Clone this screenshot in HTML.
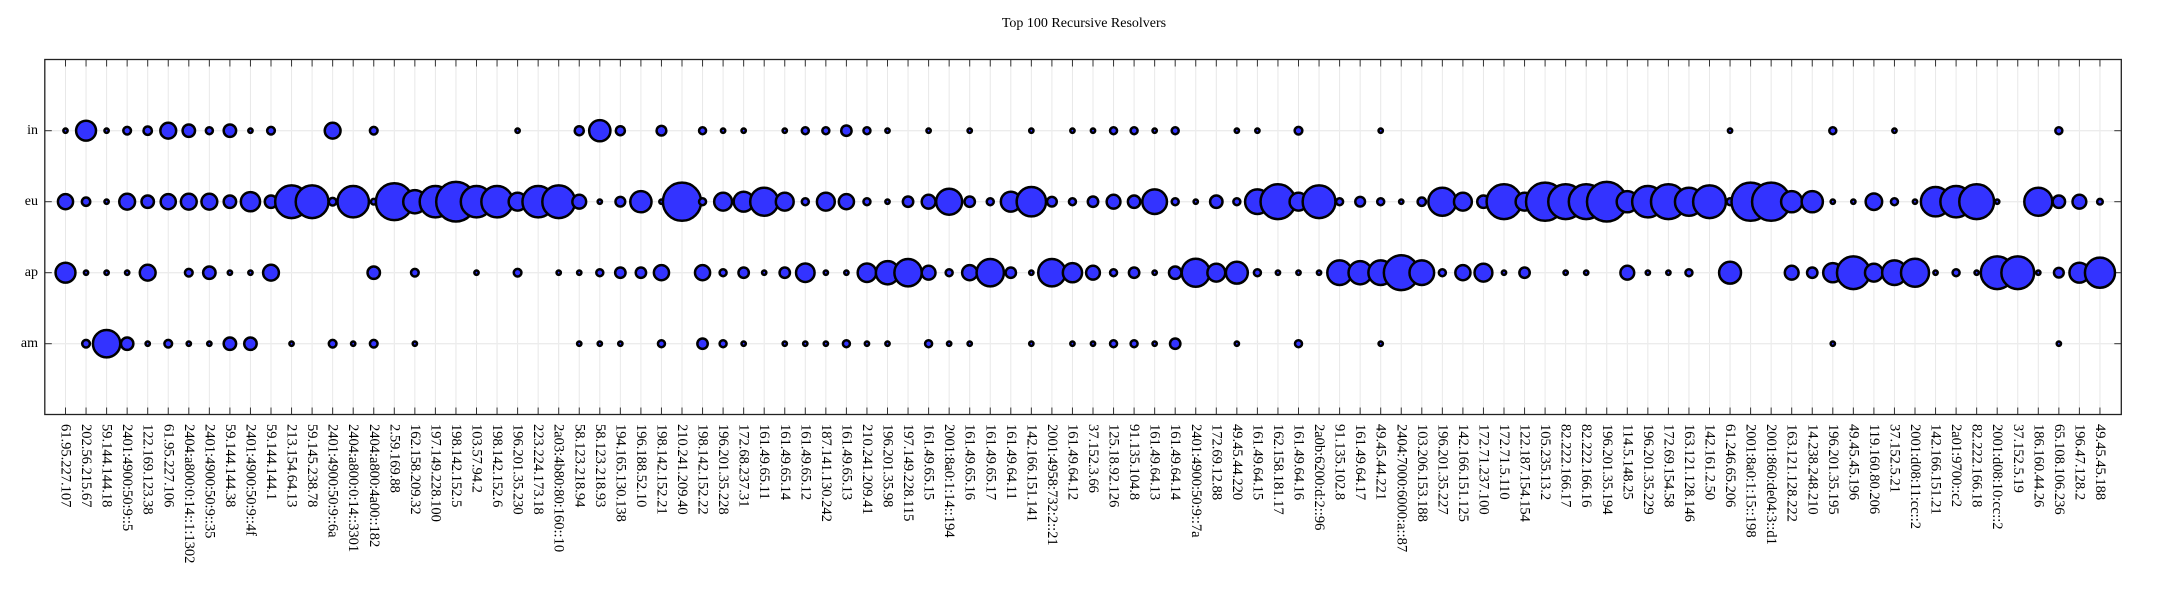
<!DOCTYPE html>
<html><head><meta charset="utf-8"><style>
html,body{margin:0;padding:0;background:#fff;}
svg{display:block;}
text{font-family:"Liberation Serif","DejaVu Serif",serif;fill:#000;}
</style></head><body>
<svg id="s" width="2157" height="592" xmlns="http://www.w3.org/2000/svg">
<rect width="2157" height="592" fill="#fff"/>
<text x="1084" y="27" font-size="14" text-anchor="middle">Top 100 Recursive Resolvers</text>
<g id="grid"></g>
<g id="bub"></g>
<rect x="44.8" y="59.5" width="2076.5" height="355" fill="none" stroke="#222" stroke-width="1.3"/>
<g font-size="14" text-anchor="end" dominant-baseline="central">
<text x="38" y="130.7">in</text><text x="38" y="201.7">eu</text><text x="38" y="272.7">ap</text><text x="38" y="343.7">am</text>
</g>
<g id="labels" font-size="14.5" dominant-baseline="central">
<text>61.95.227.107</text><text>202.56.215.67</text><text>59.144.144.18</text><text>2401:4900:50:9::5</text><text>122.169.123.38</text><text>61.95.227.106</text><text>2404:a800:0:14::1:1302</text><text>2401:4900:50:9::35</text><text>59.144.144.38</text><text>2401:4900:50:9::4f</text><text>59.144.144.1</text><text>213.154.64.13</text><text>59.145.238.78</text><text>2401:4900:50:9::6a</text><text>2404:a800:0:14::3301</text><text>2404:a800:4a00::182</text><text>2.59.169.88</text><text>162.158.209.32</text><text>197.149.228.100</text><text>198.142.152.5</text><text>103.57.94.2</text><text>198.142.152.6</text><text>196.201.35.230</text><text>223.224.173.18</text><text>2a03:4b80:80:160::10</text><text>58.123.218.94</text><text>58.123.218.93</text><text>194.165.130.138</text><text>196.188.52.10</text><text>198.142.152.21</text><text>210.241.209.40</text><text>198.142.152.22</text><text>196.201.35.228</text><text>172.68.237.31</text><text>161.49.65.11</text><text>161.49.65.14</text><text>161.49.65.12</text><text>187.141.130.242</text><text>161.49.65.13</text><text>210.241.209.41</text><text>196.201.35.98</text><text>197.149.228.115</text><text>161.49.65.15</text><text>2001:8a0:1:14::194</text><text>161.49.65.16</text><text>161.49.65.17</text><text>161.49.64.11</text><text>142.166.151.141</text><text>2001:4958:732:2::21</text><text>161.49.64.12</text><text>37.152.3.66</text><text>125.18.92.126</text><text>91.135.104.8</text><text>161.49.64.13</text><text>161.49.64.14</text><text>2401:4900:50:9::7a</text><text>172.69.12.88</text><text>49.45.44.220</text><text>161.49.64.15</text><text>162.158.181.17</text><text>161.49.64.16</text><text>2a0b:6200:d:2::96</text><text>91.135.102.8</text><text>161.49.64.17</text><text>49.45.44.221</text><text>2404:7000:6000:a::87</text><text>103.206.153.188</text><text>196.201.35.227</text><text>142.166.151.125</text><text>172.71.237.100</text><text>172.71.5.110</text><text>122.187.154.154</text><text>105.235.13.2</text><text>82.222.166.17</text><text>82.222.166.16</text><text>196.201.35.194</text><text>114.5.148.25</text><text>196.201.35.229</text><text>172.69.154.58</text><text>163.121.128.146</text><text>142.161.2.50</text><text>61.246.65.206</text><text>2001:8a0:1:15::198</text><text>2001:860:de04:3::d1</text><text>163.121.128.222</text><text>14.238.248.210</text><text>196.201.35.195</text><text>49.45.45.196</text><text>119.160.80.206</text><text>37.152.5.21</text><text>2001:d08:11:cc::2</text><text>142.166.151.21</text><text>2a01:9700::c2</text><text>82.222.166.18</text><text>2001:d08:10:cc::2</text><text>37.152.5.19</text><text>186.160.44.26</text><text>65.108.106.236</text><text>196.47.128.2</text><text>49.45.45.188</text>
</g>
</svg>
<script>
(function(){
var NS="http://www.w3.org/2000/svg";
function X(i){return 65.5+20.55*i;}
var rows=[130.7,201.7,272.7,343.7];
var L=44.8,R=2121.3,T=59.5,B=414.5;
var g=document.getElementById('grid');
function el(p,tag,a){var e=document.createElementNS(NS,tag);for(var k in a)e.setAttribute(k,a[k]);p.appendChild(e);return e;}
for(var i=0;i<100;i++){
 el(g,'line',{x1:X(i),x2:X(i),y1:T,y2:B,stroke:'#e8e8e8','stroke-width':1});
}
rows.forEach(function(y){el(g,'line',{x1:L,x2:R,y1:y,y2:y,stroke:'#ececec','stroke-width':1.3});});
for(var i=0;i<100;i++){
 el(g,'line',{x1:X(i),x2:X(i),y1:T,y2:T+7,stroke:'#333','stroke-width':1});
 el(g,'line',{x1:X(i),x2:X(i),y1:B,y2:B-7,stroke:'#333','stroke-width':1});
}
rows.forEach(function(y){
 el(g,'line',{x1:L,x2:L+7,y1:y,y2:y,stroke:'#333','stroke-width':1});
 el(g,'line',{x1:R,x2:R-7,y1:y,y2:y,stroke:'#333','stroke-width':1});
});
function arr(o){var a=[];for(var i=0;i<100;i++)a.push(o[i]||0);return a;}
var d=10;
var IN=arr({0:d,1:33,2:d,3:15,4:16,5:27,6:22,7:14,8:22,9:d,10:15,13:27,15:15,22:d,25:17,26:35,27:17,29:18,31:14,32:d,33:d,35:d,36:14,37:14,38:19,39:14,40:d,42:d,44:d,47:d,49:d,50:d,51:14,52:14,53:d,54:14,57:d,58:d,60:15,64:d,81:d,86:14,89:d,97:14});
var EU=[26,16,d,27,22,26,27,27,22,32,22,52,52,15,50,12,58,38,50,62,50,50,30,50,52,
24,d,18,35,d,60,14,30,33,45,30,14,30,26,14,d,19,24,42,19,14,33,47,18,14,19,
24,22,40,14,d,22,14,40,55,30,52,14,18,14,d,16,45,30,22,55,30,60,55,55,62,
35,50,55,45,52,14,60,60,35,35,d,d,28,14,d,47,50,55,d,0,45,22,24,12];
var AP=arr({0:33,1:d,2:d,3:d,4:27,6:15,7:22,8:d,9:d,10:27,15:22,17:15,20:d,22:15,24:d,
25:d,26:14,27:19,28:19,29:26,31:26,32:14,33:19,34:d,35:19,36:31,37:d,38:d,39:31,40:38,41:44,42:24,43:14,44:26,45:44,46:19,47:d,48:44,49:32,50:24,
51:14,52:19,53:d,54:22,55:45,56:30,57:36,58:14,59:d,60:d,61:d,62:40,63:38,64:40,65:55,66:40,67:14,68:26,69:30,70:d,71:19,73:d,74:d,
76:24,77:d,78:d,79:14,81:36,84:24,85:19,86:32,87:52,88:30,89:40,90:45,91:d,92:14,93:d,94:52,95:52,96:d,97:18,98:33,99:48});
var AM=arr({1:15,2:44,3:22,4:d,5:15,6:d,7:d,8:22,9:22,11:d,13:15,14:d,15:15,17:d,25:d,26:d,27:d,29:14,31:19,32:14,33:d,35:d,36:d,37:d,38:14,39:d,40:d,42:14,43:d,44:d,47:d,49:d,50:d,51:14,52:14,53:d,54:19,57:d,60:14,64:d,86:d,97:d});
var b=document.getElementById('bub');
[IN,EU,AP,AM].forEach(function(a,ri){
 for(var i=0;i<100;i++){var z=a[i];if(!z)continue;
  var r=z/2.95-1.25; if(r<1.6)r=1.6;
  el(b,'circle',{cx:X(i),cy:rows[ri],r:r.toFixed(2),fill:'#3333ff',stroke:'#000','stroke-width':2.5});
 }
});
var ts=document.getElementById('labels').getElementsByTagName('text');
for(var i=0;i<ts.length;i++){ts[i].setAttribute('transform','translate('+X(i).toFixed(2)+',424) rotate(90)');}
})();
</script>
</body></html>
